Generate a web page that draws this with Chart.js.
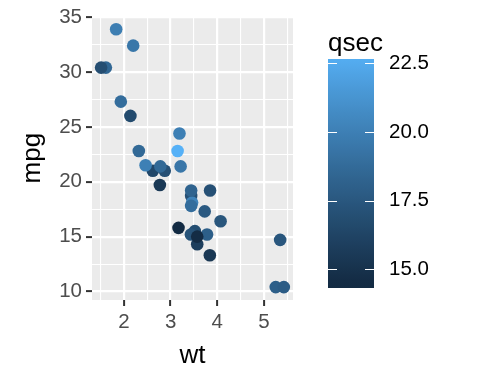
<!DOCTYPE html>
<html>
<head>
<meta charset="utf-8">
<script src="https://cdn.jsdelivr.net/npm/chart.js@4.4.0/dist/chart.umd.min.js"></script>
<style>
html, body { margin: 0; padding: 0; background: #fff; }
#wrap { position: relative; width: 480px; height: 384px; }
#wrap canvas { position: absolute; left: 0; top: 0; }
</style>
</head>
<body>
<div id="wrap">
	<canvas id="plot" width="480" height="384"></canvas>
	<canvas id="bar" width="480" height="384"></canvas>
</div>
<script>
'use strict';

// mtcars: weight, mileage and quarter-mile time
var wt = [2.620, 2.875, 2.320, 3.215, 3.440, 3.460, 3.570, 3.190, 3.150, 3.440, 3.440,
	4.070, 3.730, 3.780, 5.250, 5.424, 5.345, 2.200, 1.615, 1.835, 2.465, 3.520,
	3.435, 3.840, 3.845, 1.935, 2.140, 1.513, 3.170, 2.770, 3.570, 2.780];
var mpg = [21.0, 21.0, 22.8, 21.4, 18.7, 18.1, 14.3, 24.4, 22.8, 19.2, 17.8,
	16.4, 17.3, 15.2, 10.4, 10.4, 14.7, 32.4, 30.4, 33.9, 21.5, 15.5,
	15.2, 13.3, 19.2, 27.3, 26.0, 30.4, 15.8, 19.7, 15.0, 21.4];
var qsec = [16.46, 17.02, 18.61, 19.44, 17.02, 20.22, 15.84, 20.00, 22.90, 18.30, 18.90,
	17.40, 17.60, 18.00, 17.98, 17.82, 17.42, 19.47, 18.52, 19.90, 20.01, 16.87,
	17.30, 15.41, 17.05, 18.90, 16.70, 16.90, 14.50, 15.50, 14.60, 18.60];

var xTicks = [2, 3, 4, 5];
var xMinor = [1.5, 2.5, 3.5, 4.5, 5.5];
var yTicks = [10, 15, 20, 25, 30, 35];
var yMinor = [12.5, 17.5, 22.5, 27.5, 32.5];
var qsecTicks = [15, 17.5, 20, 22.5];

var xRange = [1.318, 5.62];
var yRange = [9.225, 35.075];
var barRange = [14.32, 22.66];

var FONT = "'Liberation Sans', Arial, Helvetica, sans-serif";
Chart.defaults.font.family = FONT;

// ggplot-like gradient, interpolated in CIELAB
function hexToRgb(h) {
	return [parseInt(h.slice(1, 3), 16), parseInt(h.slice(3, 5), 16), parseInt(h.slice(5, 7), 16)];
}
function toLin(c) {
	c /= 255;
	return c <= 0.04045 ? c / 12.92 : Math.pow((c + 0.055) / 1.055, 2.4);
}
function fromLin(c) {
	c = c <= 0.0031308 ? 12.92 * c : 1.055 * Math.pow(c, 1 / 2.4) - 0.055;
	return Math.round(Math.max(0, Math.min(1, c)) * 255);
}
function rgbToLab(rgb) {
	var r = toLin(rgb[0]), g = toLin(rgb[1]), b = toLin(rgb[2]);
	var x = (0.4124 * r + 0.3576 * g + 0.1805 * b) / 0.95047;
	var y = (0.2126 * r + 0.7152 * g + 0.0722 * b);
	var z = (0.0193 * r + 0.1192 * g + 0.9505 * b) / 1.08883;
	function f(t) { return t > 0.008856 ? Math.cbrt(t) : 7.787 * t + 16 / 116; }
	var fx = f(x), fy = f(y), fz = f(z);
	return [116 * fy - 16, 500 * (fx - fy), 200 * (fy - fz)];
}
function labToRgb(lab) {
	var fy = (lab[0] + 16) / 116, fx = fy + lab[1] / 500, fz = fy - lab[2] / 200;
	function fi(t) { return t * t * t > 0.008856 ? t * t * t : (t - 16 / 116) / 7.787; }
	var x = fi(fx) * 0.95047, y = fi(fy), z = fi(fz) * 1.08883;
	var r = 3.2406 * x - 1.5372 * y - 0.4986 * z;
	var g = -0.9689 * x + 1.8758 * y + 0.0415 * z;
	var b = 0.0557 * x - 0.2040 * y + 1.0570 * z;
	return 'rgb(' + fromLin(r) + ',' + fromLin(g) + ',' + fromLin(b) + ')';
}
var lowLab = rgbToLab(hexToRgb('#132B43'));
var highLab = rgbToLab(hexToRgb('#56B1F7'));
var qLo = Math.min.apply(null, qsec), qHi = Math.max.apply(null, qsec);

function qsecColour(v) {
	var t = Math.max(0, Math.min(1, (v - qLo) / (qHi - qLo)));
	return labToRgb([0, 1, 2].map(function (k) { return lowLab[k] + (highLab[k] - lowLab[k]) * t; }));
}

function ticksWithMinor(major, minor) {
	return major.concat(minor).sort(function (a, b) { return a - b; }).map(function (v) { return { value: v }; });
}
function isMajor(list, v) {
	return list.indexOf(v) >= 0;
}

var panelBg = {
	id: 'panelBg',
	beforeDraw: function (chart) {
		var ca = chart.chartArea, c = chart.ctx;
		c.save();
		c.fillStyle = '#EBEBEB';
		c.fillRect(ca.left, ca.top, ca.right - ca.left, ca.bottom - ca.top);
		c.restore();
	}
};

function axisOpts(major, minor, range, title, titlePad) {
	return {
		type: 'linear',
		min: range[0],
		max: range[1],
		afterBuildTicks: function (s) { s.ticks = ticksWithMinor(major, minor); },
		border: { display: false },
		grid: {
			color: '#FFFFFF',
			lineWidth: function (ctx) { return isMajor(major, ctx.tick.value) ? 2.2 : 1.1; },
			drawTicks: true,
			tickLength: 6,
			tickWidth: 2,
			tickColor: function (ctx) { return isMajor(major, ctx.tick.value) ? '#333333' : 'rgba(0,0,0,0)'; }
		},
		ticks: {
			autoSkip: false,
			maxRotation: 0,
			color: '#4D4D4D',
			font: { size: 20.5 },
			padding: 4,
			callback: function (v) { return isMajor(major, v) ? String(v) : ''; }
		},
		title: {
			display: true,
			text: title,
			color: '#000000',
			font: { size: 26 },
			padding: titlePad
		}
	};
}

var xAxis = axisOpts(xTicks, xMinor, xRange, 'wt', { top: 4, bottom: 13 });
xAxis.afterFit = function (s) { s.height = 84; };
var yAxis = axisOpts(yTicks, yMinor, yRange, 'mpg', { top: 17, bottom: 4 });
yAxis.afterFit = function (s) { s.width = 92; };

new Chart(document.getElementById('plot'), {
	type: 'scatter',
	data: {
		datasets: [{
			data: wt.map(function (w, i) { return { x: w, y: mpg[i] }; }),
			backgroundColor: qsec.map(qsecColour),
			borderWidth: 0,
			pointRadius: 6.3,
			pointHoverRadius: 6.3
		}]
	},
	options: {
		responsive: false,
		animation: false,
		events: [],
		layout: { padding: { left: 0, top: 13, right: 187, bottom: 0 } },
		plugins: { legend: { display: false }, tooltip: { enabled: false } },
		scales: { x: xAxis, y: yAxis }
	},
	plugins: [panelBg]
});

// colour bar legend
function barGradient(ctx) {
	var ca = ctx.chart.chartArea;
	if (!ca) return '#132B43';
	var g = ctx.chart.ctx.createLinearGradient(0, ca.bottom, 0, ca.top);
	for (var i = 0; i <= 30; i++) {
		g.addColorStop(i / 30, qsecColour(barRange[0] + (barRange[1] - barRange[0]) * i / 30));
	}
	return g;
}

var barDecor = {
	id: 'barDecor',
	afterDatasetsDraw: function (chart) {
		var ca = chart.chartArea, c = chart.ctx, s = chart.scales.y;
		c.save();
		c.strokeStyle = '#FFFFFF';
		c.lineWidth = 1;
		qsecTicks.forEach(function (v) {
			var y = Math.round(s.getPixelForValue(v)) + 0.5;
			c.beginPath();
			c.moveTo(ca.left, y); c.lineTo(ca.left + 9, y);
			c.moveTo(ca.right - 9, y); c.lineTo(ca.right, y);
			c.stroke();
		});
		c.fillStyle = '#000000';
		c.font = '26px ' + FONT;
		c.textBaseline = 'alphabetic';
		c.textAlign = 'left';
		c.fillText('qsec', ca.left, 51);
		c.restore();
	}
};

new Chart(document.getElementById('bar'), {
	type: 'bar',
	data: {
		labels: ['qsec'],
		datasets: [{
			data: [barRange],
			backgroundColor: barGradient,
			borderWidth: 0,
			barPercentage: 1,
			categoryPercentage: 1
		}]
	},
	options: {
		responsive: false,
		animation: false,
		events: [],
		layout: { padding: { left: 328, top: 59, right: 46, bottom: 96 } },
		plugins: { legend: { display: false }, tooltip: { enabled: false } },
		scales: {
			x: { display: false },
			y: {
				position: 'right',
				min: barRange[0],
				max: barRange[1],
				afterBuildTicks: function (s) { s.ticks = qsecTicks.map(function (v) { return { value: v }; }); },
				afterFit: function (s) { s.width = 60; },
				grid: { display: false },
				border: { display: false },
				ticks: {
					color: '#000000',
					font: { size: 20.5 },
					padding: 7,
					callback: function (v) { return v.toFixed(1); }
				}
			}
		}
	},
	plugins: [barDecor]
});
</script>
</body>
</html>
